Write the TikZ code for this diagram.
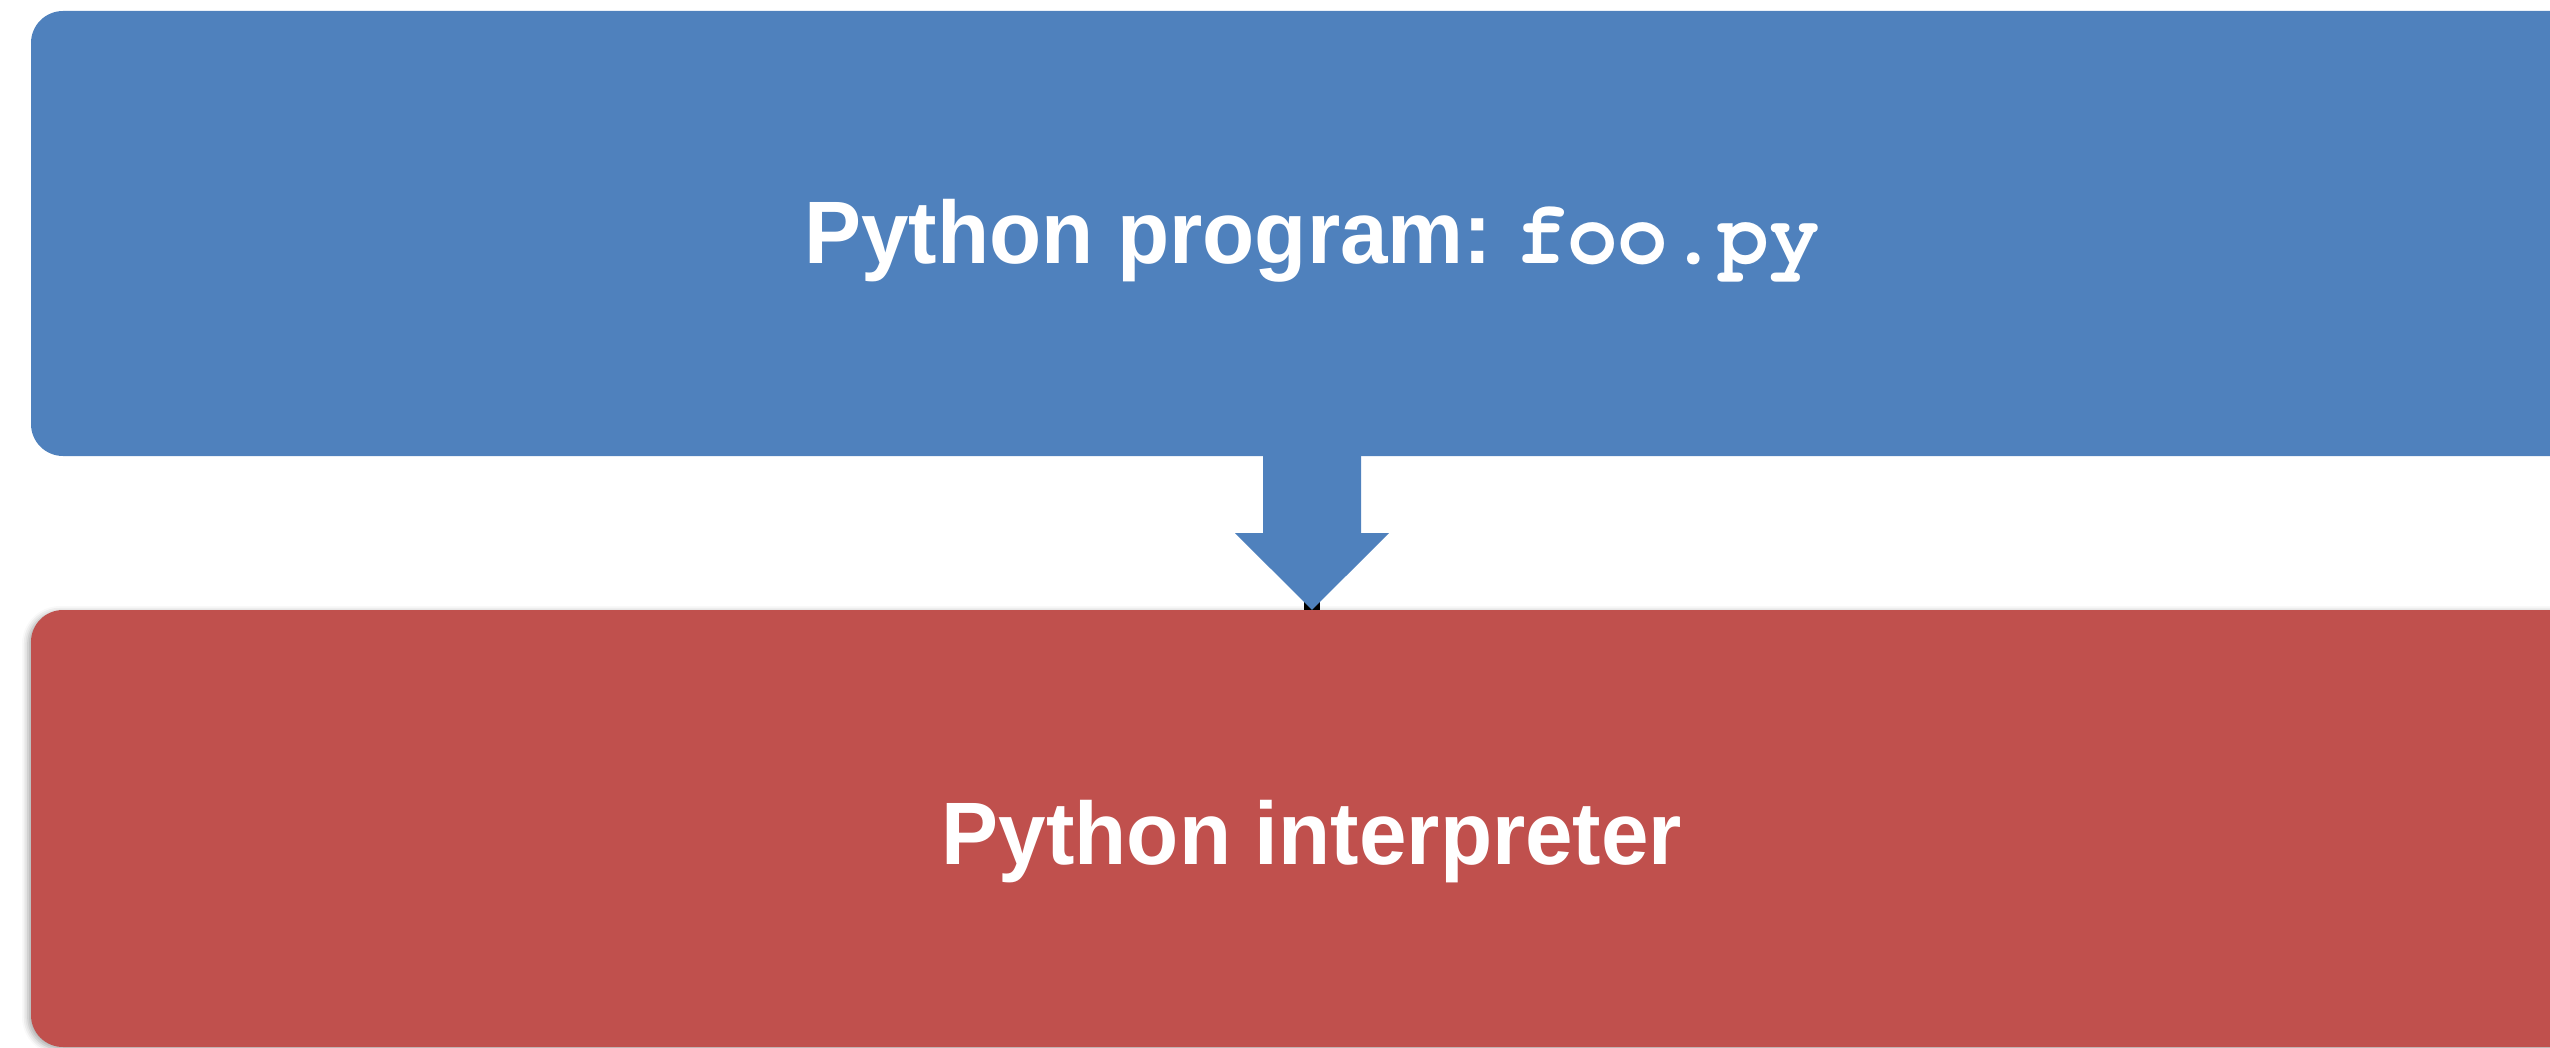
\documentclass[tikz,border=0pt]{standalone}
\usepackage{fontspec}
\usepackage{graphicx}
\setmainfont{Liberation Sans}
\setmonofont{TeX Gyre Cursor}
\usetikzlibrary{calc,shadows.blur}
\definecolor{boxblue}{HTML}{4F81BD}
\definecolor{boxred}{HTML}{C0504D}
\newcommand{\sanstxt}[1]{\scalebox{0.963}[1]{#1}}
\newcommand{\monotxt}[1]{\scalebox{0.925}[1]{\fontsize{91}{100}\selectfont\ttfamily #1}}
\tikzset{
  box/.style={rounded corners=32pt, minimum width=2562pt, minimum height=445pt,
    inner sep=0pt, text=white, text height=61pt, text depth=0pt,
    font=\fontsize{88.7}{100}\selectfont\bfseries},
  bigarrow/.style={fill=boxblue, draw=none},
}
\begin{document}
\begin{tikzpicture}[x=1pt,y=-1pt]
\useasboundingbox (0,0) rectangle (2550,1048);
\node[box, fill=boxblue] (blue) at (1312,233.5) {\sanstxt{Python program:} \monotxt{foo.py}};
\node[box, fill=boxred, minimum height=437pt, text height=71pt,
  blur shadow={shadow xshift=-3pt, shadow yshift=-2pt, shadow blur radius=6pt, shadow opacity=35}]
  (red) at (1312,828.5) {\sanstxt{Python interpreter}};
\fill[black] ($(red.north)+(-8,0)$) rectangle ++(16,-8);
\fill[bigarrow] ($(blue.south)+(-49,0)$) -- ++(0,77) -- ++(-28,0) -- (red.north)
  -- ($(blue.south)+(77,77)$) -- ++(-28,0) -- ++(0,-77) -- cycle;
\end{tikzpicture}
\end{document}
